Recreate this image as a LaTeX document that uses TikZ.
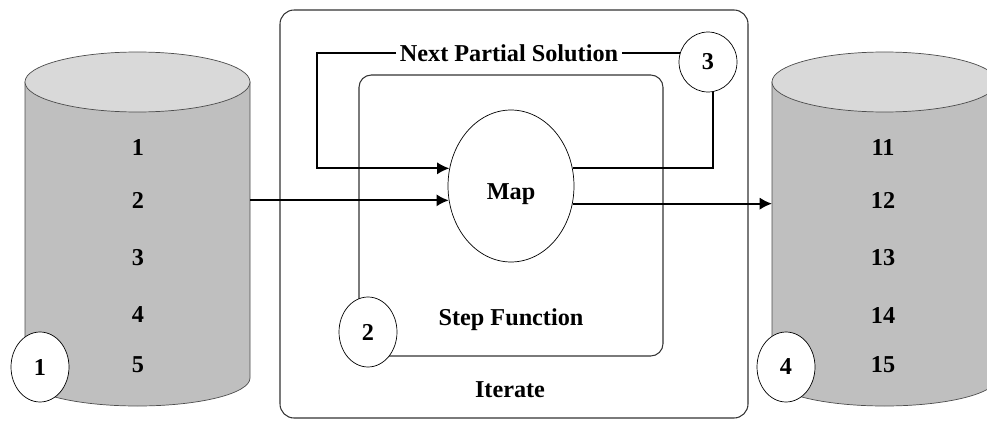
\documentclass[tikz,border=0pt]{standalone}
\usepackage{fontspec}
\setmainfont{Liberation Serif}
\usetikzlibrary{shapes.geometric,arrows.meta}

\begin{document}
\begin{tikzpicture}[x=0.02cm,y=0.02cm,
    every node/.style={font=\fontsize{13.8}{16}\selectfont\bfseries},
    badge/.style={draw,ellipse,fill=white,inner sep=0pt,
      minimum width=1.16cm,minimum height=1.4cm},
    flow/.style={-{Latex[length=7pt,width=7pt]},line width=1.1pt},
    box/.style={draw=black!80,line width=0.6pt}]
      \useasboundingbox (0,0) rectangle (987,420);
      \clip (0,0) rectangle (987,420);
      % Draw left cylinder
      \filldraw [fill=black!25,draw=black!70] (25,338) -- (25,42)
      arc [start angle=180,end angle=360,x radius=112.5,y radius=28]
      -- (250,338) -- cycle;
      \filldraw [fill=black!15,draw=black!70] (137.5,338)
      ellipse [x radius=112.5,y radius=30];
      \node (in1) at (138,273) {1};
      \node (in2) at (138,220) {2};
      \node (in3) at (138,162) {3};
      \node (in4) at (138,105) {4};
      \node (in5) at (138,55) {5};
      % Draw right cylinder
      \filldraw [fill=black!25,draw=black!70] (772,338) -- (772,42)
      arc [start angle=180,end angle=360,x radius=112.5,y radius=28]
      -- (997,338) -- cycle;
      \filldraw [fill=black!15,draw=black!70] (884.5,338)
      ellipse [x radius=112.5,y radius=30];
      \node (out1) at (883,273) {11};
      \node (out2) at (883,220) {12};
      \node (out3) at (883,162) {13};
      \node (out4) at (883,105) {14};
      \node (out5) at (883,55) {15};
      % Draw the boxes
      \draw [box,rounded corners=8pt] (280,2) rectangle (748,410);
      \draw [box,rounded corners=7pt] (359,64) rectangle (663,345);
      \node (iterate) at (510,30) {Iterate};
      \node (step) at (511,100) {Step Function};
      % Draw map
      \node [draw,ellipse,fill=white,minimum width=2.52cm,
      minimum height=3.04cm,text height=18pt,text depth=3pt]
      (map) at (511,234) {Map};
      % Draw the loop
      \node [fill=white,inner sep=2pt] (next) at (509,367)
      {Next Partial Solution};
      \node [badge,minimum height=1.2cm] (c3) at (708,358) {3};
      \draw [line width=1.1pt] (next.east) -- (next.east -| c3.162);
      \draw [flow] (next.west) -| (317,0 |- map.164) -- (map.164);
      \draw [line width=1.1pt] (map.16) -| (c3.-80);
      % Draw input and output
      \coordinate (src) at (250,0);
      \coordinate (dst) at (772,0);
      \draw [flow] (src |- map.193) -- (map.193);
      \draw [flow] (map.-16) -- (dst |- map.-16);
      % Draw the markers
      \node [badge] (c1) at (40,53) {1};
      \node [badge] (c2) at (368,88) {2};
      \node [badge] (c4) at (786,53) {4};
    \end{tikzpicture}
\end{document}
